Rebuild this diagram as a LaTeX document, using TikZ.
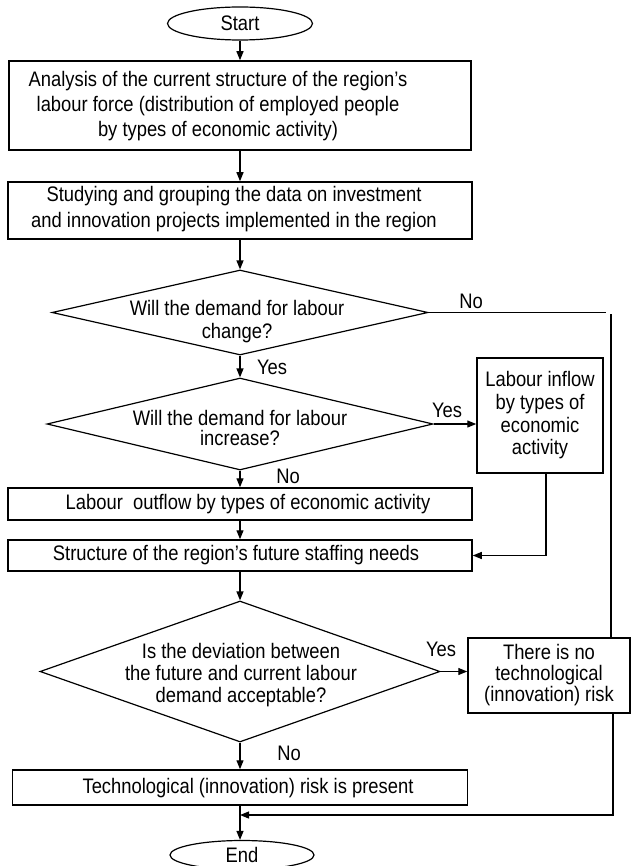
\documentclass[tikz,border=0pt]{standalone}
\usepackage{fontspec}
\setmainfont{Liberation Sans}[FakeStretch=0.875]
\usetikzlibrary{arrows.meta,shapes.geometric}
\begin{document}
\begin{tikzpicture}[x=1pt,y=-1pt,
  frame/.style={draw, line width=1.5pt, inner sep=0pt},
  dia/.style={draw, diamond, line width=1.2pt, inner sep=0pt},
  term/.style={draw, ellipse, line width=1.2pt, inner sep=0pt, font=\fontsize{21}{23}\selectfont},
  txt/.style={align=center, inner sep=0pt, font=\fontsize{21}{23}\selectfont},
  lbl/.style={inner sep=0pt, font=\fontsize{21}{23}\selectfont},
  link/.style={line width=1.2pt},
  arr/.style={link, -{Triangle[length=9pt,width=7pt]}}]
\useasboundingbox (0,0) rectangle (631,866);

% terminals
\node[term, minimum width=145pt, minimum height=33pt] (start) at (240,23.5) {Start};
\node[term, minimum width=144pt, minimum height=29pt] (end) at (242,855) {End};

% process boxes of the main column
\node[frame, minimum width=462pt, minimum height=89pt] (b1) at (240,105.5) {};
\node[txt, font=\fontsize{21}{25}\selectfont] (t1) at (218,106)
  {Analysis of the current structure of the region’s\\labour force (distribution of employed people\\by types of economic activity)};

\node[frame, minimum width=464pt, minimum height=57pt] (b2) at (240,210.5) {};
\node[txt, font=\fontsize{21}{26}\selectfont] (t2) at (234,209.5)
  {Studying and grouping the data on investment\\and innovation projects implemented in the region};

\node[frame, minimum width=464pt, minimum height=32pt] (b3) at (240,504) {};
\node[txt] (t3) at (248,504) {Labour\ \ outflow by types of economic activity};

\node[frame, minimum width=464pt, minimum height=31pt] (b4) at (240,555.5) {};
\node[txt] (t4) at (236,555.5) {Structure of the region’s future staffing needs};

\node[frame, minimum width=455pt, minimum height=35pt] (risk) at (240,787.5) {};
\node[txt] (t6) at (248,788.5) {Technological (innovation) risk is present};

% side boxes
\node[frame, txt, draw, line width=1.5pt, minimum width=126pt, minimum height=115pt,
      font=\fontsize{21}{22.7}\selectfont] (fin) at (540,415.5)
  {Labour inflow\\by types of\\economic\\activity};
\node[frame, txt, draw, line width=1.5pt, minimum width=162pt, minimum height=75pt,
      font=\fontsize{21}{21}\selectfont] (norisk) at (549,675.5)
  {There is no\\technological\\(innovation) risk};

% decisions
\node[dia, minimum width=376pt, minimum height=85pt] (d1) at (240,312.5) {};
\node[txt] (td1) at (237,321.5) {Will the demand for labour\\change?};

\node[dia, minimum width=386pt, minimum height=92pt] (d2) at (240,424) {};
\node[txt, font=\fontsize{21}{20}\selectfont] (td2) at (240,428) {Will the demand for labour\\increase?};

\node[dia, minimum width=400pt, minimum height=141pt] (d3) at (240,671.5) {};
\node[txt, font=\fontsize{21}{22}\selectfont] (td3) at (241,675)
  {Is the deviation between\\the future and current labour\\demand acceptable?};

% branch labels
\node[lbl] (l1) at (471,301) {No};
\node[lbl] (l2) at (272,367) {Yes};
\node[lbl] (l3) at (447,410) {Yes};
\node[lbl] (l4) at (288,476) {No};
\node[lbl] (l5) at (441,649) {Yes};
\node[lbl] (l6) at (289,753) {No};

% main flow
\draw[arr] (start) -- (b1);
\draw[arr] (b1) -- (b2);
\draw[arr] (b2) -- (d1);
\draw[arr] (d1) -- (d2);
\draw[arr] (d2.east) -- (d2.east -| fin.west);
\draw[arr] (d2) -- (b3);
\draw[arr] (b3) -- (b4);
\draw[arr] ([xshift=6pt]fin.south) |- (b4.east);
\draw[arr] (b4) -- (d3);
\draw[arr] (d3.east) -- (d3.east -| norisk.west);
\draw[arr] (d3) -- (risk);
\draw[arr] (risk.south) -- (risk.south |- end.north);

% "No" branch of the first decision and the return to the end
\coordinate (nr1) at (606,312.5);
\coordinate (nr2) at (611,314);
\coordinate (back) at (240,815);
\draw[link] (d1.east) -- (nr1);
\draw[link] (nr2) -- (nr2 |- norisk.north);
\draw[arr] ([xshift=64pt]norisk.south) |- (back);
\end{tikzpicture}
\end{document}
